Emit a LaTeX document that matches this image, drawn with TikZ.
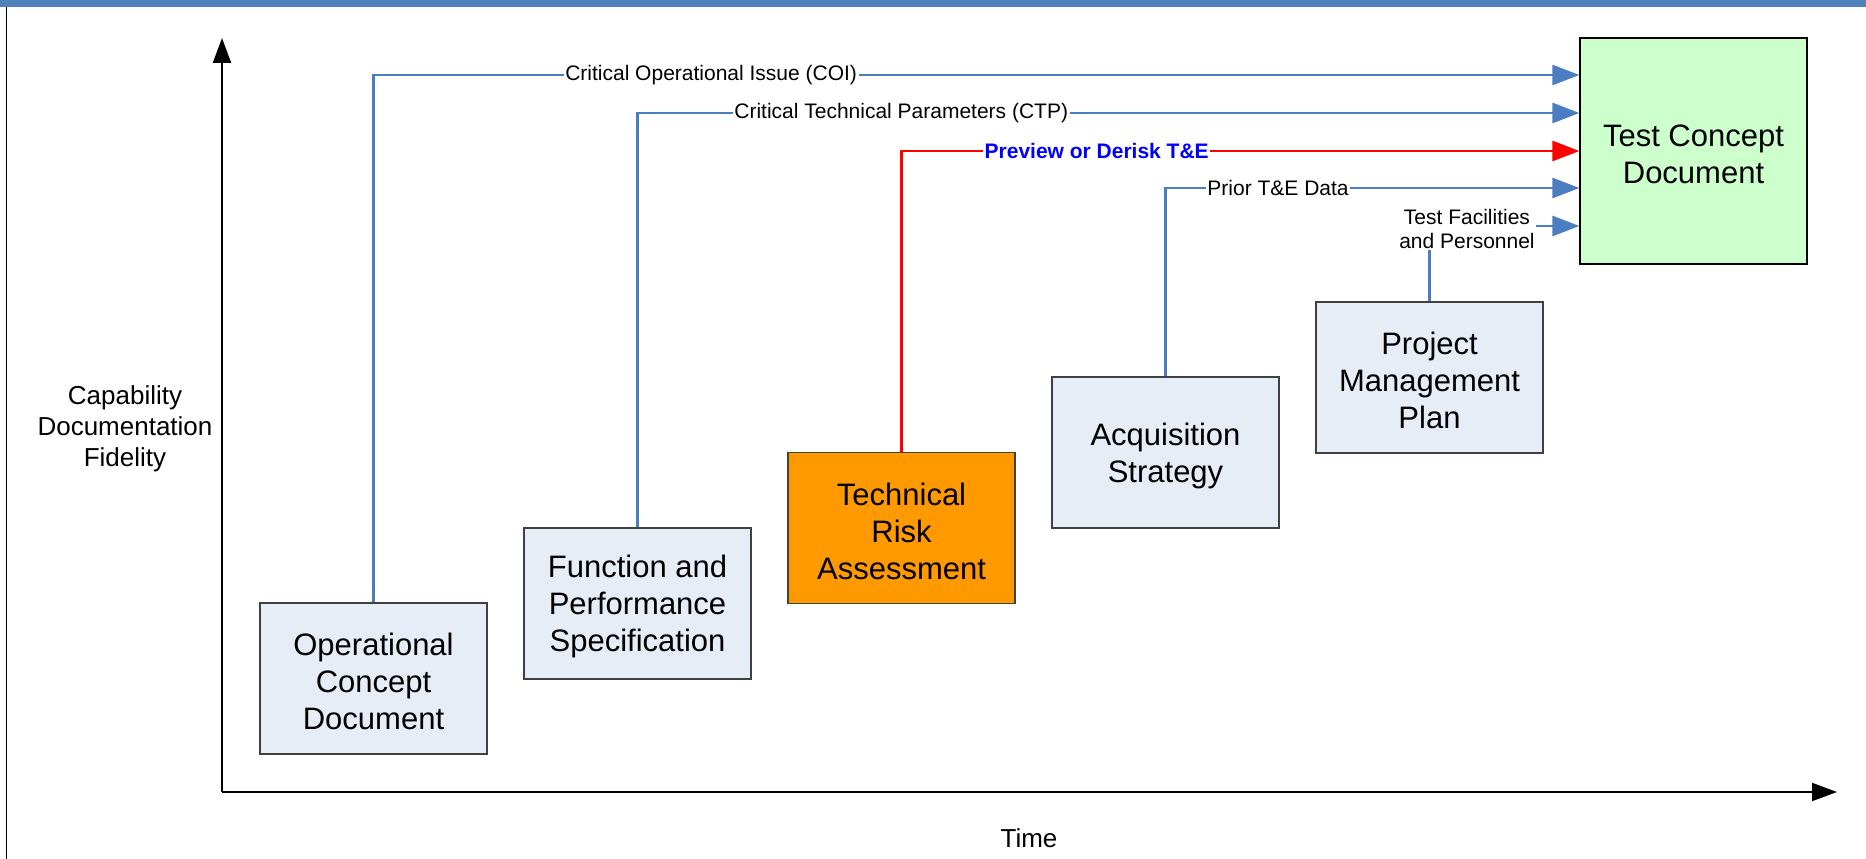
\documentclass[tikz,border=0pt]{standalone}
\usepackage{fontspec}
\setmainfont{Liberation Sans}
\usetikzlibrary{arrows.meta}
\definecolor{obar}{RGB}{79,129,189}
\definecolor{connblue}{RGB}{74,126,193}
\definecolor{boxfill}{RGB}{230,237,247}
\definecolor{boxline}{RGB}{64,64,64}
\definecolor{tcdfill}{RGB}{204,255,204}
\definecolor{traorange}{RGB}{255,153,0}
\newcommand{\dstrut}{\rule{0pt}{29pt}}
\begin{document}
\begin{tikzpicture}[x=1pt,y=-1pt,
  doc/.style={draw=boxline, line width=1.3pt, fill=boxfill, minimum width=227pt, minimum height=151pt, inner sep=0pt, align=center, font=\fontsize{31}{37}\selectfont},
  conn/.style={draw=connblue, line width=2.8pt, -{Triangle[length=27pt,width=20pt]}},
  lbl/.style={fill=white, inner sep=1.5pt, font=\fontsize{21}{24}\selectfont},
  axisline/.style={line width=2pt, -{Triangle[length=25pt,width=18pt]}},
  axlabel/.style={align=center, font=\fontsize{26}{31}\selectfont}]

\useasboundingbox (0,0) rectangle (1866,859);
\fill[obar] (0,0) rectangle (1866,7);
\draw[line width=1.5pt] (6.5,7) -- (6.5,859);

% axes
\coordinate (origin) at (222,792);
\coordinate (ytip) at (222,38);
\coordinate (xtip) at (1837,792);
\draw[axisline] (origin) -- (ytip);
\draw[axisline] (origin) -- (xtip);

\node[axlabel] (ylab) at (125,428.5) {Capability\\Documentation\\Fidelity};
\node[axlabel] (tlab) at (1029,838) {Time};

% boxes
\node[doc] (ocd) at (373.5,678.5) {\dstrut Operational\\Concept\\Document};
\node[doc] (fps) at (637.5,603.5) {\dstrut Function and\\Performance\\Specification};
\node[doc, fill=traorange] (tra) at (901.5,528) {\dstrut Technical\\Risk\\Assessment};
\node[doc] (as) at (1165.5,452.5) {\dstrut Acquisition\\Strategy};
\node[doc] (pmp) at (1429.5,377.5) {\dstrut Project\\Management\\Plan};
\node[doc, draw=black, fill=tcdfill, minimum height=226pt] (tcd) at (1693.5,151) {\dstrut Test Concept\\Document};

% connectors
\draw[conn] (ocd.north) |- node[lbl, pos=0.64] {Critical Operational Issue (COI)} ([yshift=76pt]tcd.west);
\draw[conn] (fps.north) |- node[lbl, pos=0.64] {Critical Technical Parameters (CTP)} ([yshift=38pt]tcd.west);
\draw[conn, draw=red] (tra.north) |- node[lbl, pos=0.644, text=blue, font=\fontsize{21}{24}\selectfont\bfseries] {Preview or Derisk T\&E} (tcd.west);
\draw[conn] (as.north) |- node[lbl, pos=0.636] {Prior T\&E Data} ([yshift=-37pt]tcd.west);
\draw[conn] (pmp.north) |- node[lbl, pos=0.625, align=center, yshift=-3pt] {Test Facilities\\and Personnel} ([yshift=-75pt]tcd.west);
\end{tikzpicture}
\end{document}
